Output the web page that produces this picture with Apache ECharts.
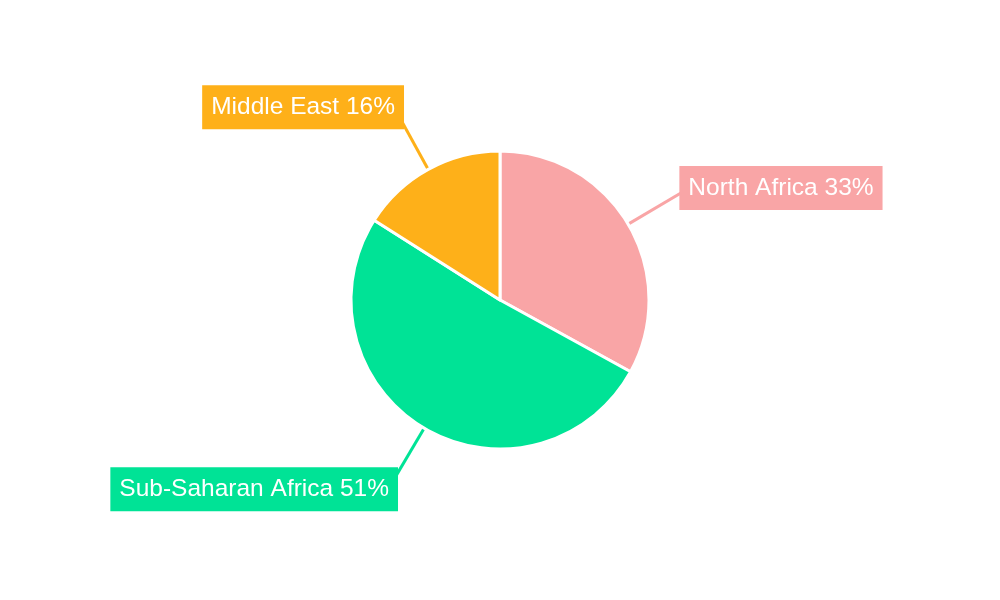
<!DOCTYPE html>
<html>
	<head>
		<meta charset="UTF-8">
		<title>Pie</title>
		<script type="text/javascript" src="https://cdn.jsdelivr.net/npm/echarts@6/dist/echarts.min.js"></script>
		<style>
			html, body { margin: 0; padding: 0; background: #fff; }
		</style>
	</head>
	<body>
		<div id="chart" style="width:1000px; height:600px;"></div>
		<script>
		// 数据
		var regions = ['North Africa', 'Sub-Saharan Africa', 'Middle East'];
		var shares = [33, 51, 16];
		var colors = ['#F9A5A6', '#00E396', '#FEB019'];

		var myChart = echarts.init(document.getElementById('chart'));

		var data = regions.map(function(name, i){
			return {
				name: name,
				value: shares[i],
				itemStyle: { color: colors[i] },
				label: { backgroundColor: colors[i] },
				labelLine: { lineStyle: { color: colors[i] } }
			};
		});

		var option = {
			animation: false,
			series: [{
				type: 'pie',
				center: ['50%', '50%'],
				radius: 149,
				startAngle: 90,
				clockwise: true,
				data: data,
				itemStyle: {
					borderColor: '#fff',
					borderWidth: 3
				},
				label: {
					formatter: '{b} {d}%',
					color: '#fff',
					fontSize: 24.5,
					fontFamily: 'Liberation Sans, Arial, sans-serif',
					padding: [10, 9, 10, 9],
					lineHeight: 24,
					// 标签略微压住引导线末端
					distanceToLabelLine: -10
				},
				labelLine: {
					length: 71,
					length2: 0,
					lineStyle: { width: 3 }
				}
			}]
		};
		myChart.setOption(option);
		</script>
	</body>
</html>
